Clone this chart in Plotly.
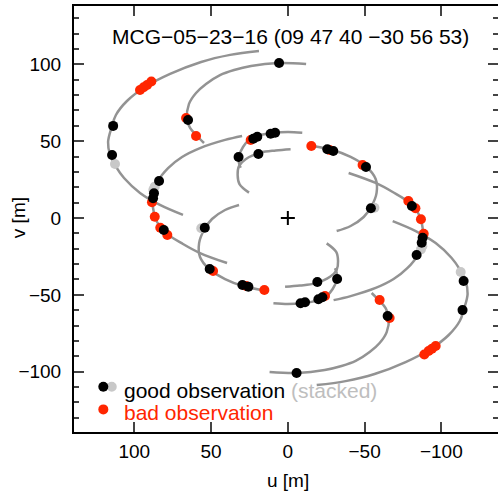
import plotly.graph_objects as go

# ---- uv tracks (one half; the other half is the conjugate (-u,-v)) ----
track_a_u = [18.8, 37.6, 56.5, 76.7, 93.0, 104.8, 112.0, 114.8, 117.1, 115.8, 111.9, 106.7, 96.3, 83.3, 68.3]
track_a_v = [108.7, 106.1, 101.5, 93.7, 85.2, 76.1, 67.0, 59.0, 49.4, 40.9, 33.2, 26.0, 16.3, 8.5, 2.0]

track_b_u = [-11.9, 6.4, 24.0, 35.0, 44.2, 53.3, 59.8, 64.4, 65.7, 63.7, 59.8, 54.6]
track_b_v = [100.2, 100.8, 98.9, 96.3, 93.0, 87.2, 81.3, 74.2, 64.4, 58.6, 54.0, 48.8]

track_c_u = [29.8, 40.9, 57.2, 68.9, 78.0, 84.6, 87.8, 87.8, 85.2, 79.3, 68.3, 57.2, 39.6]
track_c_v = [53.4, 50.8, 45.5, 39.7, 32.5, 24.1, 15.0, 6.5, -2.6, -9.8, -16.9, -22.8, -29.3]

track_d_u = [31.8, 40.9, 49.4, 54.6, 57.8, 57.2, 51.3, 40.9, 29.2, 12.9]
track_d_v = [8.5, 5.2, -0.65, -7.8, -16.3, -25.4, -33.2, -39.7, -44.2, -47.5]

track_e_u = [-1.8, 7.9, 17.7, 27.5, 31.8, 32.7, 31.5, 25.3]
track_e_v = [44.7, 43.9, 42.5, 38.2, 33.8, 28.0, 22.1, 16.5]

track_f_u = [-9.4, -0.1, 9.1, 19.9, 25.3, 29.2, 31.8, 31.9, 30.7]
track_f_v = [55.5, 56.0, 55.5, 53.4, 50.7, 46.2, 40.3, 36.0, 32.7]

# ---- observations (one half) ----
good_u = [113.8, 114.5, 5.7, 65.0, 83.9, 87.2, 87.8, 80.8, 54.1, 50.9, 29.6, 25.7, 19.2, 22.5, 19.9, 11.2, 8.3, 32.1]
good_v = [59.9, 41.0, 100.8, 63.8, 24.1, 16.1, 12.8, -7.8, -6.3, -33.2, -43.6, -44.7, 41.6, 51.6, 52.9, 54.8, 55.5, 39.7]

bad_u = [96.3, 93.9, 91.7, 88.9, 66.3, 59.8, 88.5, 86.7, 83.1, 78.5, 48.7, 27.2, 15.3, 24.2]
bad_v = [83.3, 85.0, 86.5, 88.8, 65.1, 53.3, 10.2, 0.8, -6.3, -11.1, -34.5, -44.2, -46.8, 50.7]

stacked_u = [112.6, 86.7, 87.6, 56.4]
stacked_v = [35.1, 20.4, 18.3, -6.7]

title_text = "MCG\u221205\u221223\u221216 (09 47 40 \u221230 56 53)"

LINE = "#939393"
RED = "#ff2600"
GRAY = "#c8c8c8"
FONT = "Liberation Sans, Arial, sans-serif"

tracks = [(track_a_u, track_a_v), (track_b_u, track_b_v), (track_c_u, track_c_v),
          (track_d_u, track_d_v), (track_e_u, track_e_v), (track_f_u, track_f_v)]

fig = go.Figure()
for tu, tv in tracks:
    for s in (1, -1):
        fig.add_trace(go.Scatter(x=[s * a for a in tu], y=[s * b for b in tv], mode="lines",
                                 line=dict(color=LINE, width=2.5, shape="spline"),
                                 hoverinfo="skip"))

def conj(u, v):
    return u + [-a for a in u], v + [-b for b in v]

for (uu, vv), col in ((conj(stacked_u, stacked_v), GRAY), (conj(bad_u, bad_v), RED), (conj(good_u, good_v), "black")):
    fig.add_trace(go.Scatter(x=uu, y=vv, mode="markers",
                             marker=dict(color=col, size=10, line=dict(width=0))))

# origin marker (on the right-hand overlay axis so its ticks are drawn)
fig.add_trace(go.Scatter(x=[0], y=[0], mode="markers", yaxis="y2",
                         marker=dict(symbol="cross-thin", size=10, line=dict(width=2, color="black"))))

xr = [139.3, -136.9]
yr = [-139.2, 137.9]
tickfont = dict(family=FONT, size=19, color="black")

fig.update_layout(
    width=498, height=495,
    margin=dict(l=74, r=0, t=6, b=63),
    plot_bgcolor="white", paper_bgcolor="white",
    showlegend=False,
    font=dict(family=FONT, size=19, color="black"),
    xaxis=dict(range=xr, tick0=0, dtick=50, ticks="inside", ticklen=10, tickwidth=2,
               showline=True, linewidth=2, linecolor="black", mirror="ticks",
               showgrid=False, zeroline=False, tickfont=tickfont, ticklabelstandoff=1),
    yaxis=dict(range=yr, tick0=0, dtick=50, ticks="inside", ticklen=10, tickwidth=2,
               showline=True, linewidth=2, linecolor="black",
               showgrid=False, zeroline=False, tickfont=tickfont, ticklabelstandoff=7,
               minor=dict(dtick=10, tick0=0, ticks="inside", ticklen=5, tickwidth=2, showgrid=False)),
    yaxis2=dict(range=yr, overlaying="y", side="right", tick0=0, dtick=50, ticks="inside",
                ticklen=10, tickwidth=2, showline=False, showticklabels=False,
                showgrid=False, zeroline=False,
                minor=dict(dtick=10, tick0=0, ticks="inside", ticklen=5, tickwidth=2, showgrid=False)),
)

# title inside the plot
fig.add_annotation(text=title_text, x=-2, y=118, xref="x", yref="y", showarrow=False,
                   xanchor="center", yanchor="middle", font=dict(family=FONT, size=21, color="black"))

# axis titles
fig.add_annotation(text="u [m]", x=0, xref="x", y=-0.115, yref="paper", showarrow=False,
                   xanchor="center", yanchor="middle", font=dict(family=FONT, size=19))
fig.add_annotation(text="v [m]", x=-0.132, xref="paper", y=0.502, yref="paper", showarrow=False,
                   textangle=-90, xanchor="center", yanchor="middle", font=dict(family=FONT, size=19))

# legend
def dot(xc, yc, col):
    fig.add_shape(type="circle", xref="x", yref="y", xsizemode="pixel", ysizemode="pixel",
                  xanchor=xc, yanchor=yc, x0=-5, x1=5, y0=-5, y1=5,
                  fillcolor=col, line=dict(width=0), layer="above")

dot(114.7, -109.8, GRAY)
dot(120.2, -109.8, "black")
dot(120.2, -124.5, RED)
fig.add_annotation(text="good observation <span style='color:#bebebe'>(stacked)</span>",
                   x=108.0, y=-112.2, xref="x", yref="y", showarrow=False,
                   xanchor="left", yanchor="middle", font=dict(family=FONT, size=21, color="black"))
fig.add_annotation(text="bad observation", x=108.0, y=-126.2, xref="x", yref="y", showarrow=False,
                   xanchor="left", yanchor="middle", font=dict(family=FONT, size=21, color=RED))

fig.write_html("out.html")
